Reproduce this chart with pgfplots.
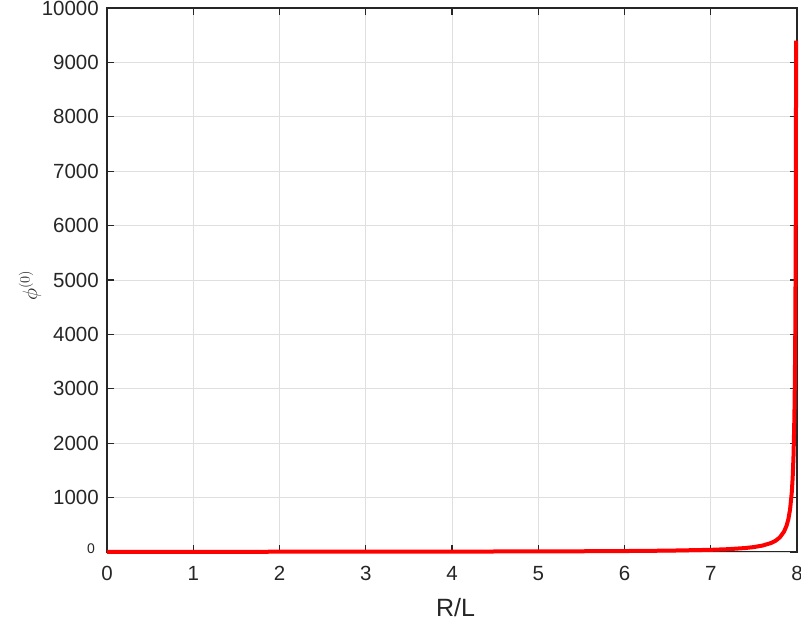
\documentclass[border=0pt]{standalone}
\usepackage{pgfplots}
\pgfplotsset{compat=1.18}
\usepackage{fontspec}
\setmainfont{Liberation Sans}
\definecolor{axgray}{HTML}{262626}
\definecolor{gridgray}{HTML}{DFDFDF}
\begin{document}
\begin{tikzpicture}
\begin{axis}[
  scale only axis, width=690pt, height=544pt,
  xmin=0, xmax=8, ymin=0, ymax=10000,
  xtick={0,1,2,3,4,5,6,7,8},
  xticklabels={0,1,2,3,4,5,6,7,8},
  ytick={1000,2000,3000,4000,5000,6000,7000,8000,9000,10000},
  yticklabels={1000,2000,3000,4000,5000,6000,7000,8000,9000,10000},
  extra y ticks={0},
  extra y tick labels={0},
  extra y tick style={yticklabel style={font=\fontsize{14}{16}\selectfont, yshift=3pt, xshift=-4pt}},
  scaled y ticks=false,
  tick align=inside,
  xtick pos=both, ytick pos=both,
  major tick length=7pt,
  grid=major,
  major grid style={gridgray, line width=0.8pt},
  axis line style={axgray, line width=1.1pt},
  every tick/.style={axgray, line width=1.1pt},
  tick label style={font=\fontsize{20.5}{24}\selectfont, text=axgray},
  yticklabel style={anchor=east, inner sep=0pt, xshift=-8pt},
  xticklabel style={anchor=north, inner sep=0pt, yshift=-14pt},
  xlabel={R/L},
  xlabel style={at={(axis description cs:0.505,-0.103)}, anchor=center, font=\fontsize{25}{30}\selectfont, text=axgray},
  ylabel={$\phi^{(0)}$},
  ylabel style={at={(axis description cs:-0.1116,0.49)}, anchor=center, font=\fontsize{22}{26}\selectfont, text=axgray},
  clip=false,
]
\addplot[red, line width=4pt] coordinates {
(0,3.4) (1,4.0) (2,4.8) (3,6.0) (4,7.8) (5,10.9) (5.5,13.6) (6,17.7) (6.5,24.8)
(7,40) (7.2,52) (7.4,73) (7.5,91) (7.6,118) (7.7,166) (7.75,205) (7.8,267)
(7.85,375) (7.88,488) (7.9,604) (7.92,788) (7.94,1106) (7.95,1372) (7.96,1785)
(7.97,2507) (7.975,3109) (7.98,4044) (7.985,5680) (7.99,9400)
};
\end{axis}
\pgfresetboundingbox
\path ([shift={(-107pt,-74pt)}]current axis.south west) rectangle ([shift={(4pt,8pt)}]current axis.north east);
\end{tikzpicture}
\end{document}
